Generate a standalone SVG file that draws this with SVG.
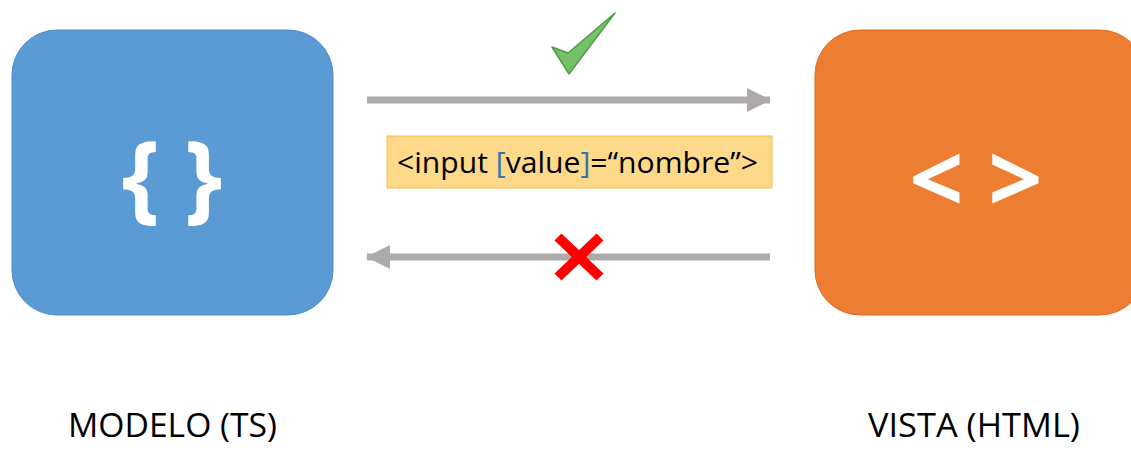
<svg xmlns="http://www.w3.org/2000/svg" width="1131" height="452" viewBox="0 0 1131 452">
  <style>
    .label { font-family: "Open Sans", "Noto Sans", sans-serif; font-size: 33px; fill: #000; }
    .icon { font-family: "Open Sans", "Noto Sans", sans-serif; font-weight: bold; fill: #fff; text-anchor: middle; }
    .conn { stroke: #aeaaaa; stroke-width: 7; fill: none; }
    .code { font-family: "Open Sans", "Noto Sans", sans-serif; font-size: 29px; fill: #000; }
  </style>
  <defs>
    <marker id="head" viewBox="0 0 24 24" refX="23" refY="12" markerWidth="24" markerHeight="24" markerUnits="userSpaceOnUse" orient="auto">
      <path d="M0,0 L24,12 L0,24 Z" fill="#aeaaaa"/>
    </marker>
  </defs>
  <rect width="1131" height="452" fill="#fff"/>

  <!-- model node -->
  <g id="modelo">
    <rect x="12" y="30" width="321" height="285" rx="45" ry="45" fill="#5b9bd5" stroke="#4f8cc4" stroke-width="1"/>
    <text class="icon" x="172" y="211" font-size="96">{ }</text>
    <text class="label" x="68" y="437" textLength="209" lengthAdjust="spacingAndGlyphs">MODELO (TS)</text>
  </g>

  <!-- view node -->
  <g id="vista">
    <rect x="815" y="30" width="330" height="285" rx="45" ry="45" fill="#ed7d31" stroke="#d96d25" stroke-width="1"/>
    <text class="icon" x="976" y="213" font-size="95">&lt; &gt;</text>
    <text class="label" x="868" y="437" textLength="212" lengthAdjust="spacingAndGlyphs">VISTA (HTML)</text>
  </g>

  <!-- connectors -->
  <g id="connectors">
    <line class="conn" x1="367" y1="100" x2="770" y2="100" marker-end="url(#head)"/>
    <line class="conn" x1="770" y1="257" x2="367" y2="257" marker-end="url(#head)"/>
  </g>

  <!-- binding label -->
  <g id="binding">
    <rect x="387" y="136" width="385" height="52" fill="#ffd98a" stroke="#f5c242" stroke-width="1"/>
    <text class="code" x="397" y="173" textLength="361" lengthAdjust="spacingAndGlyphs">&lt;input <tspan fill="#2e75b6">[</tspan>value<tspan fill="#2e75b6">]</tspan>=“nombre”&gt;</text>
  </g>

  <!-- allowed direction mark -->
  <g id="check">
    <path d="M615,13 L569,74 L552,47 L568,53 Z" fill="#77c06a" stroke="#4e9e44" stroke-width="1.5" stroke-linejoin="round"/>
  </g>

  <!-- blocked direction mark -->
  <g id="cross" stroke="#ff0000" stroke-width="10">
    <line x1="558" y1="237" x2="600" y2="277"/>
    <line x1="600" y1="237" x2="558" y2="277"/>
  </g>
</svg>
